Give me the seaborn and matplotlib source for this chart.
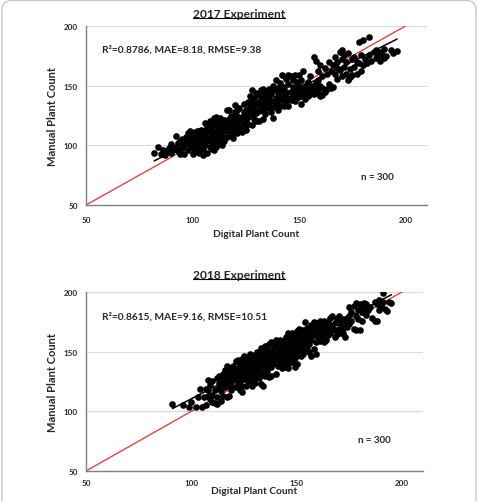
import numpy as np
import pandas as pd
import matplotlib
matplotlib.use("Agg")
import matplotlib.pyplot as plt
import seaborn as sns
from matplotlib.patches import FancyBboxPatch
from matplotlib.lines import Line2D

# 2017 experiment: digital (x) vs manual (y) plant counts
x_2017 = [
    82, 84, 85, 86, 87, 88, 89, 90, 90, 91, 92, 92, 93, 93, 94, 94, 95, 95, 96, 96,
    97, 97, 98, 98, 99, 99, 99, 100, 100, 100, 101, 101, 101, 102, 102, 102, 103, 103, 103, 104,
    104, 104, 105, 105, 105, 105, 103, 100, 98, 102,
    106, 106, 106, 106, 107, 107, 107, 107, 108, 108, 108, 108, 109, 109, 109, 109, 110, 110, 110, 110,
    110, 111, 111, 111, 111, 112, 112, 112, 112, 113, 113, 113, 113, 114, 114, 114, 114, 115, 115, 115,
    116, 116, 116, 116, 117, 117, 117, 118, 118, 118, 119, 119, 119, 120, 120, 120, 120, 121, 121, 121,
    122, 122, 122, 123, 123, 123, 124, 124, 124, 125, 125, 125, 125, 118, 121,
    126, 126, 126, 126, 127, 127, 127, 128, 128, 128, 128, 129, 129, 129, 130, 130, 130, 130, 131, 131,
    131, 132, 132, 132, 133, 133, 133, 133, 134, 134, 134, 135, 135, 135, 129, 131,
    136, 136, 136, 137, 137, 137, 138, 138, 138, 138, 139, 139, 139, 140, 140, 140, 140, 141, 141, 141,
    142, 142, 142, 143, 143, 143, 144, 144, 144, 145, 145, 145, 145, 139,
    146, 146, 146, 147, 147, 147, 148, 148, 148, 149, 149, 149, 150, 150, 150, 151, 151, 152, 152, 152,
    153, 153, 153, 154, 154, 154, 155, 155, 155, 151,
    156, 156, 157, 157, 157, 158, 158, 158, 159, 159, 160, 160, 160, 161, 161, 162, 162, 163, 163, 164,
    164, 165, 165, 159, 161,
    166, 166, 167, 167, 168, 168, 169, 169, 170, 170, 170, 171, 171, 172, 172, 173, 173, 174, 174, 175,
    175, 168,
    176, 176, 177, 177, 178, 178, 179, 179, 180, 180, 181, 182, 183, 183, 184, 185,
    186, 186, 187, 188, 188, 189, 190, 190, 191, 193, 194, 196,
]
y_2017 = [
    94, 99, 93, 96, 92, 95, 98, 101, 94, 96, 108, 99, 95, 102, 93, 104, 105, 98, 100, 93,
    107, 103, 96, 110, 100, 105, 112, 98, 108, 103, 111, 95, 106, 100, 112, 104, 94, 109, 98, 102,
    113, 107, 92, 97, 110, 104, 112, 93, 104, 97,
    119, 100, 108, 113, 94, 104, 117, 111, 99, 106, 114, 120, 97, 103, 109, 116, 96, 101, 112, 118,
    123, 105, 110, 124, 99, 115, 108, 120, 102, 111, 117, 123, 106, 113, 119, 100, 109, 115, 121, 104,
    130, 112, 118, 107, 114, 122, 130, 109, 116, 125, 112, 119, 106, 122, 115, 134, 128, 110, 118, 125,
    113, 121, 131, 116, 124, 111, 119, 128, 135, 113, 122, 130, 117, 121, 130,
    136, 124, 130, 118, 141, 128, 133, 117, 126, 146, 137, 122, 131, 140, 127, 135, 144, 120, 142, 129,
    120, 138, 133, 146, 122, 130, 140, 147, 126, 135, 143, 131, 138, 145, 127, 136,
    140, 133, 147, 128, 143, 137, 123, 132, 146, 150, 155, 140, 135, 144, 130, 148, 137, 152, 140, 133,
    159, 146, 138, 149, 142, 133, 156, 145, 137, 159, 151, 140, 133, 147,
    158, 145, 138, 149, 141, 155, 159, 143, 137, 147, 153, 140, 159, 145, 150, 141, 155, 162, 147, 143,
    150, 145, 139, 147, 153, 141, 146, 158, 143, 135,
    145, 150, 174, 148, 143, 171, 152, 146, 144, 155, 141, 167, 150, 148, 158, 145, 165, 147, 160, 151,
    170, 148, 162, 162, 142,
    149, 167, 174, 160, 156, 170, 178, 163, 180, 158, 172, 166, 176, 160, 170, 155, 177, 157, 164, 159,
    172, 165,
    166, 174, 160, 170, 187, 169, 162, 176, 188, 167, 172, 169, 191, 176, 171, 178,
    180, 173, 176, 171, 178, 176, 173, 181, 175, 180, 177, 179,
]

# 2018 experiment
x_2018 = [
    91, 96, 100, 102, 104, 105, 103, 99,
    106, 107, 107, 108, 108, 109, 109, 110, 110, 111, 111, 112, 112, 112, 113, 113, 113, 114, 114, 114,
    115, 115, 115, 110, 108,
    116, 116, 116, 117, 117, 117, 118, 118, 118, 119, 119, 119, 120, 120, 120, 121, 121, 121, 122, 122,
    122, 123, 123, 123, 123, 124, 124, 124, 124, 125, 125, 125, 125, 117, 119, 121, 122, 124, 120, 118,
    126, 126, 126, 126, 127, 127, 127, 128, 128, 128, 129, 129, 129, 129, 130, 130, 130, 130, 131, 131,
    131, 132, 132, 132, 133, 133, 133, 133, 134, 134, 134, 134, 135, 135, 135, 135, 127, 129, 131, 132,
    134, 128, 130, 133, 135,
    136, 136, 136, 136, 137, 137, 137, 137, 138, 138, 138, 138, 139, 139, 139, 140, 140, 140, 140, 141,
    141, 141, 141, 142, 142, 142, 143, 143, 143, 143, 144, 144, 144, 144, 145, 145, 145, 145, 145, 136,
    139, 142, 144, 138, 140,
    146, 146, 146, 146, 146, 147, 147, 147, 147, 148, 148, 148, 148, 149, 149, 149, 149, 150, 150, 150,
    150, 151, 151, 151, 152, 152, 152, 153, 153, 153, 153, 154, 154, 154, 154, 155, 155, 155, 155, 148,
    150, 152, 146, 151, 149,
    156, 156, 156, 157, 157, 157, 157, 158, 158, 158, 158, 159, 159, 159, 160, 160, 160, 161, 161, 161,
    162, 162, 162, 163, 163, 163, 164, 164, 164, 165, 165, 165, 159, 161, 156,
    166, 166, 166, 167, 167, 168, 168, 169, 169, 170, 170, 170, 171, 171, 172, 172, 173, 173, 174, 174,
    175, 175, 175, 168, 172,
    176, 176, 177, 177, 178, 178, 178, 179, 179, 180, 180, 181, 181, 182, 182, 183, 183, 184, 185, 180,
    186, 187, 187, 188, 188, 189, 190, 191, 191, 192, 193, 194, 195, 189,
]
y_2018 = [
    106, 105, 108, 104, 119, 104, 112, 104,
    112, 119, 105, 113, 118, 110, 122, 114, 125, 107, 118, 106, 112, 128, 120, 124, 130, 109, 117, 127,
    123, 131, 113, 108, 126,
    135, 128, 120, 125, 132, 112, 134, 127, 113, 130, 122, 136, 126, 133, 138, 128, 120, 142, 131, 136,
    143, 125, 118, 134, 140, 129, 137, 144, 121, 132, 139, 146, 127, 138, 118, 135, 124, 116, 131, 122,
    135, 142, 128, 121, 138, 131, 145, 133, 140, 126, 136, 142, 130, 147, 134, 139, 124, 145, 137, 131,
    150, 141, 135, 128, 143, 138, 153, 123, 140, 146, 132, 121, 142, 149, 137, 155, 125, 121, 144, 147,
    150, 148, 128, 131, 130,
    144, 140, 152, 134, 147, 141, 156, 129, 143, 150, 137, 158, 146, 152, 140, 131, 148, 155, 143, 150,
    145, 159, 138, 153, 147, 141, 156, 150, 144, 136, 159, 153, 147, 139, 162, 157, 150, 144, 137, 148,
    157, 160, 142, 130, 160,
    166, 160, 154, 147, 140, 163, 157, 150, 143, 141, 160, 166, 154, 137, 158, 164, 151, 160, 155, 167,
    147, 162, 157, 150, 165, 159, 153, 168, 162, 156, 148, 175, 164, 158, 152, 170, 166, 160, 154, 148,
    140, 146, 136, 169, 145,
    168, 162, 156, 166, 146, 172, 160, 152, 170, 164, 175, 171, 165, 158, 168, 174, 162, 170, 165, 176,
    168, 173, 163, 158, 171, 176, 166, 172, 160, 169, 175, 164, 148, 159, 150,
    172, 166, 178, 180, 170, 174, 168, 177, 165, 169, 175, 180, 172, 166, 177, 170, 162, 174, 178, 171,
    187, 180, 173, 162, 166,
    183, 176, 188, 169, 191, 180, 168, 185, 177, 168, 190, 183, 176, 191, 186, 190, 181, 185, 187, 186,
    178, 176, 192, 190, 176, 193, 188, 199, 192, 186, 184, 192, 191, 185,
]

# trend lines as drawn in the figure (slope, intercept)
fit_2017 = (0.895, 13.6)
fit_2018 = (0.918, 18.7)

titles = ["2017 Experiment", "2018 Experiment"]
stats = ["R\u00b2=0.8786, MAE=8.18, RMSE=9.38", "R\u00b2=0.8615, MAE=9.16, RMSE=10.51"]
n_label = "n = 300"
ticks = [50, 100, 150, 200]

sns.set_theme(style="white")
plt.rcParams["font.family"] = ["Lato", "DejaVu Sans"]
plt.rcParams["font.weight"] = "bold"

fig = plt.figure(figsize=(4.78, 5.02), dpi=100)


def fit_width(txt, target_px):
    # scale a text so that its drawn width matches the width measured on the reference
    r = fig.canvas.get_renderer()
    w = txt.get_window_extent(renderer=r).width
    txt.set_fontsize(txt.get_fontsize() * target_px / w)


# tick label size: "100" is about 14 px wide in the reference
probe = fig.text(0, 0, "100", fontsize=7, fontweight="bold")
fit_width(probe, 14)
tick_size = probe.get_fontsize()
probe.remove()

# light rounded frame around the whole figure
fig.patches.append(FancyBboxPatch((0.004, -0.05), 0.992, 1.047, boxstyle="round,pad=0,rounding_size=0.02",
                                  transform=fig.transFigure, fc="none", ec="#c8c8c8", lw=1.0))

axes_pos = [[0.180, 0.5896, 0.713, 0.3566], [0.180, 0.0598, 0.705, 0.3566]]
title_y = [0.972, 0.452]
stat_y = [181, 179.5]
stat_w = [159, 165]
n_y = [74, 76.5]
xtick_pad = [8, 6]
xlabel_pad = [4, 0]

panels = [(x_2017, y_2017, fit_2017), (x_2018, y_2018, fit_2018)]

for i, (xs, ys, fit) in enumerate(panels):
    ax = fig.add_axes(axes_pos[i])
    df = pd.DataFrame({"Digital": xs, "Manual": ys})

    ax.set_xlim(50, 210)
    ax.set_ylim(50, 200)
    ax.set_yticks(ticks)
    ax.set_xticks(ticks)
    ax.yaxis.grid(True, color="#d9d9d9", lw=0.8)
    ax.xaxis.grid(False)
    ax.set_axisbelow(True)

    # 1:1 line
    ax.plot([50, 200], [50, 200], color="#e8322c", lw=0.9, zorder=2)

    sns.scatterplot(data=df, x="Digital", y="Manual", ax=ax, color="black",
                    s=23, edgecolor=None, linewidth=0, zorder=3)

    # fitted trend line over the data range
    fx = np.array([df["Digital"].min(), df["Digital"].max()])
    ax.plot(fx, fit[0] * fx + fit[1], color="black", lw=1.1, zorder=4)

    for side in ["top", "right"]:
        ax.spines[side].set_visible(False)
    ax.spines["left"].set_color("#7f7f7f")
    ax.spines["bottom"].set_color("#7f7f7f")
    ax.spines["left"].set_linewidth(1.0)
    ax.spines["bottom"].set_linewidth(1.0)
    ax.tick_params(axis="x", length=0, labelsize=tick_size, pad=xtick_pad[i])
    ax.tick_params(axis="y", length=0, labelsize=tick_size, pad=6)
    for lab in ax.get_xticklabels() + ax.get_yticklabels():
        lab.set_fontweight("bold")

    ax.set_xlabel("Digital Plant Count", fontsize=8, fontweight="bold", labelpad=xlabel_pad[i])
    ax.set_ylabel("Manual Plant Count", fontsize=8, fontweight="bold", labelpad=4)
    fit_width(ax.xaxis.label, 86)

    st = ax.text(57.4, stat_y[i], stats[i], fontsize=8, fontweight="bold", va="center", ha="left")
    fit_width(st, stat_w[i])
    nt = ax.text(187, n_y[i], n_label, fontsize=8, fontweight="bold", va="center", ha="center")
    fit_width(nt, 33)

    t = fig.text(0.5, title_y[i], titles[i], fontsize=9, fontweight="bold", ha="center", va="center")
    fit_width(t, 93)
    fig.canvas.draw()
    bb = t.get_window_extent().transformed(fig.transFigure.inverted())
    fig.add_artist(Line2D([bb.x0, bb.x1], [bb.y0 + 0.001, bb.y0 + 0.001], color="black", lw=0.8,
                          transform=fig.transFigure))

fig.savefig("out.png", dpi=100)
